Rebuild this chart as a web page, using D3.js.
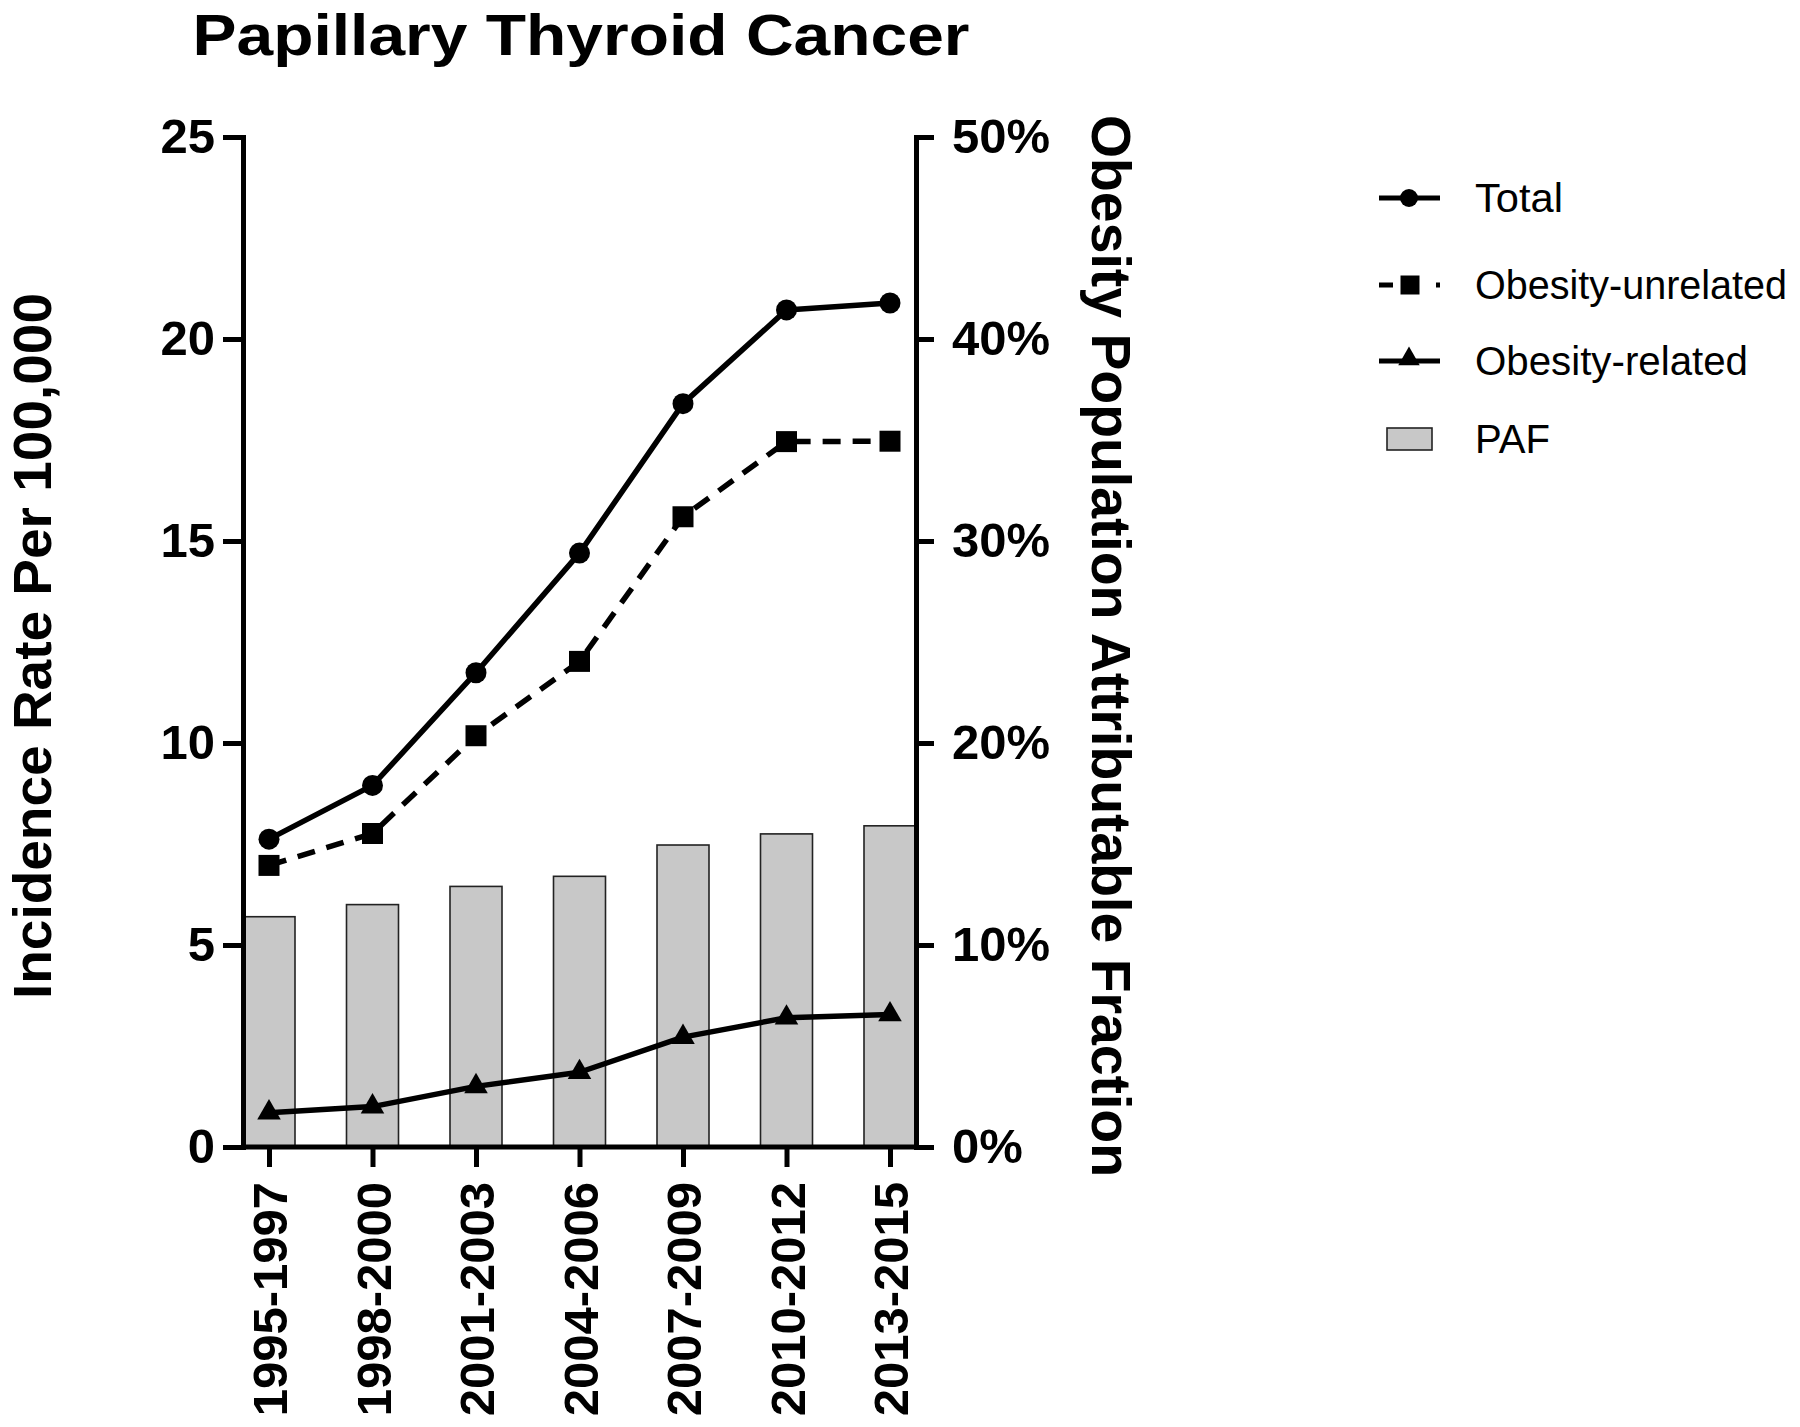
<!DOCTYPE html>
<html>
<head>
<meta charset="utf-8">
<script src="https://cdn.jsdelivr.net/npm/d3@7"></script>
<style>
  html, body { margin: 0; padding: 0; background: #fff; }
  svg { display: block; }
</style>
</head>
<body>
<svg id="chart" width="1800" height="1427"></svg>
<script>
const categories = ["1995-1997", "1998-2000", "2001-2003", "2004-2006", "2007-2009", "2010-2012", "2013-2015"];
const totalValues = [7.62, 8.95, 11.74, 14.70, 18.40, 20.72, 20.89];
const unrelatedValues = [6.97, 7.76, 10.18, 12.02, 15.60, 17.46, 17.47];
const relatedValues = [0.85, 1.00, 1.50, 1.85, 2.72, 3.20, 3.28];
const pafValues = [11.4, 12.0, 12.9, 13.4, 14.95, 15.5, 15.9];
const leftTicks = [0, 5, 10, 15, 20, 25];
const rightTicks = [0, 10, 20, 30, 40, 50];
const titleText = "Papillary Thyroid Cancer";
const leftTitle = "Incidence Rate Per 100,000";
const rightTitle = "Obesity Population Attributable Fraction";
const legendLabels = ["Total", "Obesity-unrelated", "Obesity-related", "PAF"];

const svg = d3.select("#chart");
const plotL = 243, plotR = 916, plotT = 137, plotB = 1147;
const barW = 52;
const narrow = "'Liberation Sans Narrow', 'Arial Narrow', 'Liberation Sans', Arial, sans-serif";
const wide = "'Liberation Sans', Arial, sans-serif";

const x = d3.scalePoint().domain(categories).range([plotL + barW / 2, plotR - barW / 2]);
const yL = d3.scaleLinear().domain([0, 25]).range([plotB, plotT]);
const yR = d3.scaleLinear().domain([0, 50]).range([plotB, plotT]);

// Title
svg.append("text").attr("x", 581).attr("y", 55).attr("text-anchor", "middle")
  .attr("font-family", narrow).attr("font-weight", "bold").attr("font-size", 58)
  .attr("textLength", 777).attr("lengthAdjust", "spacingAndGlyphs")
  .text(titleText);

// Bars (PAF)
svg.append("g").selectAll("rect").data(categories).join("rect")
  .attr("x", d => x(d) - barW / 2)
  .attr("y", (d, i) => yR(pafValues[i]))
  .attr("width", barW)
  .attr("height", (d, i) => plotB - yR(pafValues[i]))
  .attr("fill", "#c8c8c8").attr("stroke", "#222").attr("stroke-width", 1.6);

// Lines
function drawSeries(vals, dash, symbol, size) {
  const line = d3.line().x((d, i) => x(categories[i])).y(d => yL(d));
  svg.append("path").datum(vals).attr("d", line)
    .attr("fill", "none").attr("stroke", "#000").attr("stroke-width", 5.5)
    .attr("stroke-linejoin", "round")
    .attr("stroke-dasharray", dash);
  svg.append("g").selectAll("path").data(vals).join("path")
    .attr("transform", (d, i) => `translate(${x(categories[i])},${yL(d)})`)
    .attr("d", d3.symbol().type(symbol).size(size))
    .attr("fill", "#000");
}
drawSeries(totalValues, null, d3.symbolCircle, Math.PI * 10.5 * 10.5);
drawSeries(unrelatedValues, "18,12", d3.symbolSquare, 21 * 21);
drawSeries(relatedValues, null, d3.symbolTriangle, 240);

// Axes
function styleAxis(g) {
  g.selectAll(".domain").attr("stroke", "#000").attr("stroke-width", 5);
  g.selectAll(".tick line").attr("stroke", "#000").attr("stroke-width", 5);
  g.selectAll(".tick text").attr("fill", "#000")
    .attr("font-family", wide).attr("font-weight", "bold").attr("font-size", 49);
}

const gx = svg.append("g").attr("transform", `translate(0,${plotB})`)
  .call(d3.axisBottom(x).tickSize(20).tickSizeOuter(0));
gx.select(".domain").attr("d", `M${plotL},0H${plotR}`);
styleAxis(gx);
gx.selectAll(".tick text")
  .attr("transform", "rotate(-90)")
  .attr("text-anchor", "end")
  .attr("x", -35).attr("y", 0).attr("dy", "0.36em");

const gl = svg.append("g").attr("transform", `translate(${plotL},0)`)
  .call(d3.axisLeft(yL).tickValues(leftTicks).tickSize(20).tickSizeOuter(0).tickPadding(8));
styleAxis(gl);
gl.select(".domain").attr("stroke-linecap", "square");

const gr = svg.append("g").attr("transform", `translate(${plotR},0)`)
  .call(d3.axisRight(yR).tickValues(rightTicks).tickFormat(d => d + "%").tickSize(18).tickSizeOuter(0).tickPadding(18));
styleAxis(gr);
gr.select(".domain").attr("stroke-linecap", "square");

// Axis titles
svg.append("text").attr("transform", `translate(51,646) rotate(-90)`)
  .attr("text-anchor", "middle")
  .attr("font-family", narrow).attr("font-weight", "bold").attr("font-size", 53)
  .attr("textLength", 706).attr("lengthAdjust", "spacingAndGlyphs")
  .text(leftTitle);
svg.append("text").attr("transform", `translate(1092,646) rotate(90)`)
  .attr("text-anchor", "middle")
  .attr("font-family", narrow).attr("font-weight", "bold").attr("font-size", 55)
  .attr("textLength", 1062).attr("lengthAdjust", "spacingAndGlyphs")
  .text(rightTitle);

// Legend
const legend = svg.append("g");
const legY = [198, 285, 361, 439];
const legLen = [88, 312, 273, 75];
const lx0 = 1379, lx1 = 1440, lxc = 1409;
legend.append("line").attr("x1", lx0).attr("x2", lx1).attr("y1", legY[0]).attr("y2", legY[0])
  .attr("stroke", "#000").attr("stroke-width", 5);
legend.append("path").attr("transform", `translate(${lxc},${legY[0]})`)
  .attr("d", d3.symbol().type(d3.symbolCircle).size(Math.PI * 9 * 9));
legend.append("line").attr("x1", lx0).attr("x2", lx1).attr("y1", legY[1]).attr("y2", legY[1])
  .attr("stroke", "#000").attr("stroke-width", 5).attr("stroke-dasharray", "14,43,4");
legend.append("path").attr("transform", `translate(${lxc + 1},${legY[1]})`)
  .attr("d", d3.symbol().type(d3.symbolSquare).size(19 * 19));
legend.append("line").attr("x1", lx0).attr("x2", lx1).attr("y1", legY[2]).attr("y2", legY[2])
  .attr("stroke", "#000").attr("stroke-width", 5);
legend.append("path").attr("transform", `translate(${lxc},${legY[2] - 2})`)
  .attr("d", d3.symbol().type(d3.symbolTriangle).size(200));
legend.append("rect").attr("x", 1387).attr("y", 428).attr("width", 45).attr("height", 22)
  .attr("fill", "#c8c8c8").attr("stroke", "#222").attr("stroke-width", 1.6);
legend.selectAll("text.lab").data(legendLabels).join("text").attr("class", "lab")
  .attr("x", 1475).attr("y", (d, i) => legY[i] + 14)
  .attr("font-family", narrow).attr("font-size", 40)
  .attr("textLength", (d, i) => legLen[i]).attr("lengthAdjust", "spacingAndGlyphs")
  .text(d => d);
</script>
</body>
</html>
